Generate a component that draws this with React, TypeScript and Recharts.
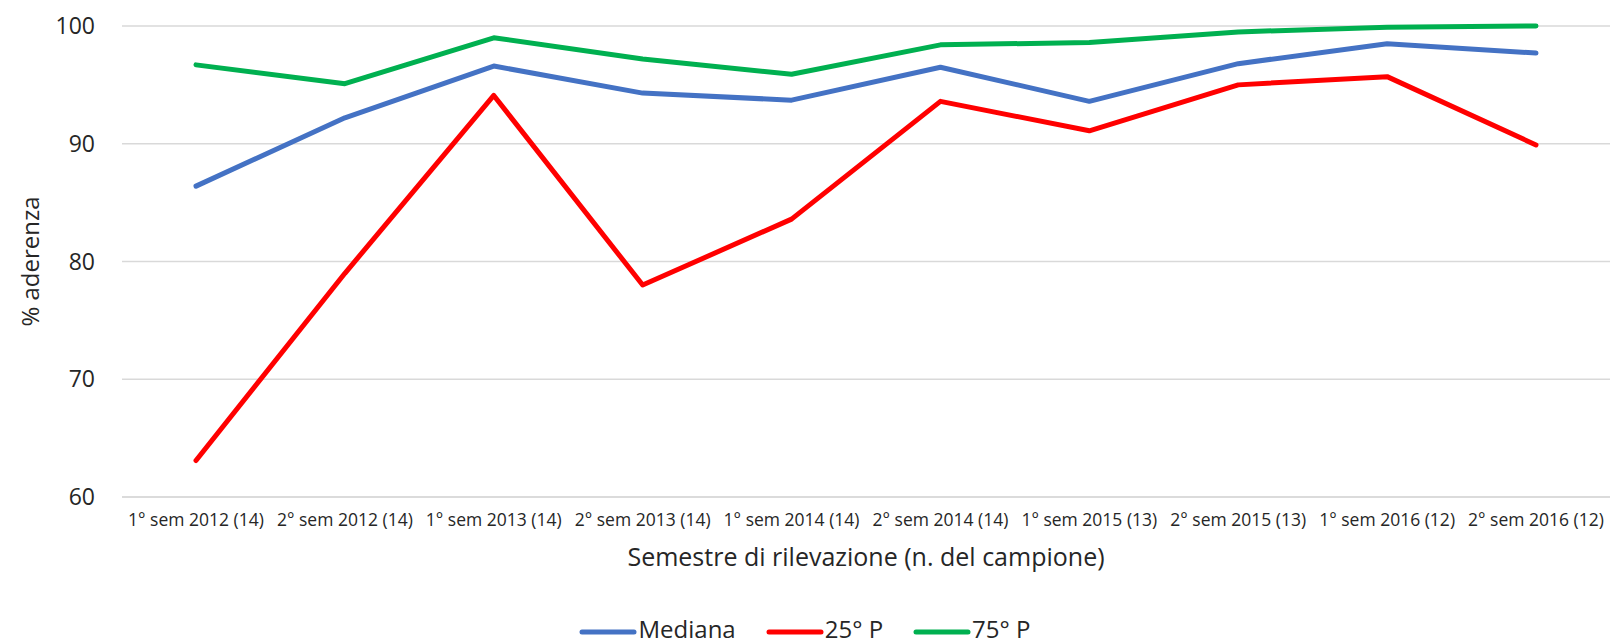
import { CartesianGrid, Legend, Line, LineChart, XAxis, YAxis } from 'recharts';

// Semestri di rilevazione (n. del campione)
const semestri = [
  '1° sem 2012 (14)',
  '2° sem 2012 (14)',
  '1° sem 2013 (14)',
  '2° sem 2013 (14)',
  '1° sem 2014 (14)',
  '2° sem 2014 (14)',
  '1° sem 2015 (13)',
  '2° sem 2015 (13)',
  '1° sem 2016 (12)',
  '2° sem 2016 (12)',
];

const mediana = [86.4, 92.2, 96.6, 94.3, 93.7, 96.5, 93.6, 96.8, 98.5, 97.7];
const p25 = [63.1, 79.0, 94.1, 78.0, 83.6, 93.6, 91.1, 95.0, 95.7, 89.9];
const p75 = [96.7, 95.1, 99.0, 97.2, 95.9, 98.4, 98.6, 99.5, 99.9, 100];

const yTicks = [60, 70, 80, 90, 100];

// ordine della legenda come nel grafico originale
const legendOrder = ['Mediana', '25° P', '75° P'];

const FONT = '"Open Sans", "Noto Sans", sans-serif';
const INK = '#262626';

const data = semestri.map((s, i) => ({
  semestre: s,
  mediana: mediana[i],
  p25: p25[i],
  p75: p75[i],
}));

// legenda in stile Excel: segmento spesso + testo
function ExcelLegend({ payload }: any) {
  const items = [...(payload ?? [])].sort(
    (a: any, b: any) => legendOrder.indexOf(a.value) - legendOrder.indexOf(b.value),
  );
  return (
    <div style={{ display: 'flex', justifyContent: 'center', alignItems: 'center', gap: 30, fontFamily: FONT }}>
      {items.map((p: any) => (
        <span key={p.value} style={{ display: 'flex', alignItems: 'center' }}>
          <svg width={58} height={10} style={{ marginTop: 6 }}>
            <line x1={3} y1={5} x2={55} y2={5} stroke={p.color} strokeWidth={5} strokeLinecap="round" />
          </svg>
          <span style={{ fontSize: 24, color: INK, marginLeft: 1, lineHeight: '30px' }}>{p.value}</span>
        </span>
      ))}
    </div>
  );
}

export default function App() {
  return (
    <div style={{ position: 'absolute', left: 0, top: 0, background: '#fff' }}>
      <LineChart
        width={1610}
        height={644}
        data={data}
        margin={{ top: 26, right: 0, bottom: 0, left: 0 }}
        style={{ fontFamily: FONT }}
      >
        <CartesianGrid vertical={false} stroke="#d9d9d9" strokeWidth={1.5} />
        <XAxis
          dataKey="semestre"
          height={117}
          padding={{ left: 74, right: 74 }}
          tickLine={false}
          axisLine={{ stroke: '#d9d9d9', strokeWidth: 1.5 }}
          tick={{ fill: INK, fontSize: 17.5 }}
          tickMargin={11}
          interval={0}
          label={{
            value: 'Semestre di rilevazione (n. del campione)',
            position: 'insideTop',
            offset: 51,
            fill: INK,
            fontSize: 25,
          }}
        />
        <YAxis
          width={122}
          domain={[60, 100]}
          ticks={yTicks}
          interval={0}
          tickLine={false}
          axisLine={false}
          tick={{ fill: INK, fontSize: 23 }}
          tickMargin={21}
          label={{
            value: '% aderenza',
            angle: -90,
            position: 'insideLeft',
            offset: 30,
            fill: INK,
            fontSize: 24,
            style: { textAnchor: 'middle' },
          }}
        />
        <Legend verticalAlign="bottom" height={30} content={<ExcelLegend />} />
        <Line
          dataKey="mediana"
          name="Mediana"
          stroke="#4472c4"
          strokeWidth={5}
          dot={false}
          strokeLinecap="round"
          strokeLinejoin="round"
          isAnimationActive={false}
        />
        <Line
          dataKey="p25"
          name="25° P"
          stroke="#ff0000"
          strokeWidth={5}
          dot={false}
          strokeLinecap="round"
          strokeLinejoin="round"
          isAnimationActive={false}
        />
        <Line
          dataKey="p75"
          name="75° P"
          stroke="#00b050"
          strokeWidth={5}
          dot={false}
          strokeLinecap="round"
          strokeLinejoin="round"
          isAnimationActive={false}
        />
      </LineChart>
    </div>
  );
}
